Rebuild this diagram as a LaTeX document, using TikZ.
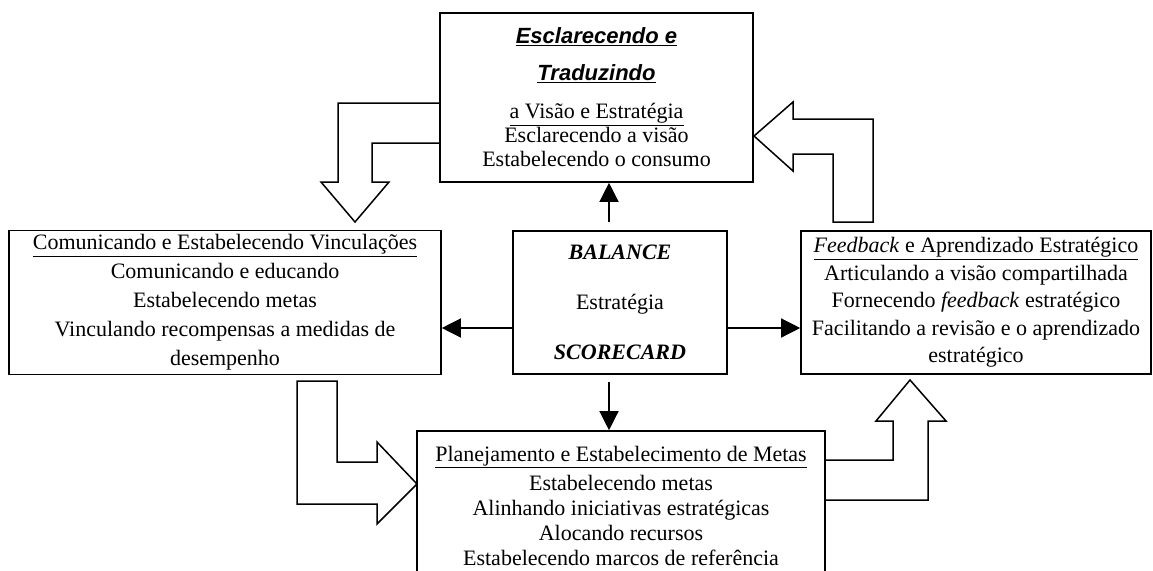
\documentclass[tikz,border=0pt]{standalone}
\usepackage{fontspec}
\setmainfont{Liberation Serif}
\setsansfont{Liberation Sans}
\usepackage{tikz}
\usetikzlibrary{calc,arrows.meta,positioning}
\definecolor{ink}{HTML}{000000}
\tikzset{
  ar/.style={-{Triangle[length=19pt,width=19pt]},line width=1.3pt,ink},
  box/.style={draw=ink,line width=1.6pt,align=center,inner sep=4pt},
  blk/.style={draw=ink,line width=1.5pt,line join=miter}
}

\begin{document}
\begin{tikzpicture}[x=1pt,y=-1pt]
\useasboundingbox (0,0) rectangle (1153,570);
\node[box,minimum width=313pt,minimum height=169pt,font=\fontsize{22}{24}\selectfont] (vis) at (596.5,97.5)
  {{\sffamily\bfseries\itshape\underline{Esclarecendo e}}\\[13pt]{\sffamily\bfseries\itshape\underline{Traduzindo}}\\[14pt]\underline{a Visão e Estratégia}\\Esclarecendo a visão\\Estabelecendo o consumo};
\node[box,minimum width=432pt,minimum height=143pt,font=\fontsize{22}{29}\selectfont] (com) at (225,302.5)
  {\underline{Comunicando e Estabelecendo Vinculações}\\Comunicando e educando\\Estabelecendo metas\\Vinculando recompensas a medidas de\\desempenho};
\node[box,minimum width=214pt,minimum height=143pt,font=\fontsize{22}{50}\selectfont] (bsc) at (620,302.5)
  {\textbf{\textit{BALANCE}}\\Estratégia\\\textbf{\textit{SCORECARD}}};
\node[box,minimum width=350pt,minimum height=143pt,font=\fontsize{22}{27.5}\selectfont] (fbk) at (976,302.5)
  {\underline{\textit{Feedback} e Aprendizado Estratégico}\\Articulando a visão compartilhada\\Fornecendo \textit{feedback} estratégico\\Facilitando a revisão e o aprendizado\\estratégico};
\node[box,minimum width=408pt,minimum height=150pt,font=\fontsize{22}{25}\selectfont] (plan) at (621,506)
  {\underline{Planejamento e Estabelecimento de Metas}\\[4pt]Estabelecendo metas\\Alinhando iniciativas estratégicas\\Alocando recursos\\Estabelecendo marcos de referência};
\draw[ar] ([xshift=-11pt,yshift=8pt]bsc.north) -- ([xshift=-11pt]bsc.north |- vis.south);
\draw[ar] ([xshift=-11pt,yshift=-7pt]bsc.south) -- ([xshift=-11pt]bsc.south |- plan.north);
\draw[ar] ([yshift=-25.5pt]bsc.west) -- ([yshift=-25.5pt]bsc.west -| com.east);
\draw[ar] ([yshift=-25.5pt]bsc.east) -- ([yshift=-25.5pt]bsc.east -| fbk.west);
\draw[blk] (440,103) -- (338,103) -- (338,182) -- (321,182) -- (355,222) -- (389,182) -- (372,182) -- (372,143) -- (440,143);
\draw[blk] (833,222) -- (873,222) -- (873,119) -- (793,119) -- (793,102) -- (754,136) -- (793,171) -- (793,154) -- (833,154) -- cycle;
\draw[blk] (297,381) -- (337,381) -- (337,462) -- (377,462) -- (377,442) -- (417,484) -- (377,524) -- (377,504) -- (297,504) -- cycle;
\draw[blk] (825,460) -- (893,460) -- (893,421) -- (876,421) -- (910,380) -- (946,421) -- (928,421) -- (928,500) -- (825,500);
\end{tikzpicture}
\end{document}
